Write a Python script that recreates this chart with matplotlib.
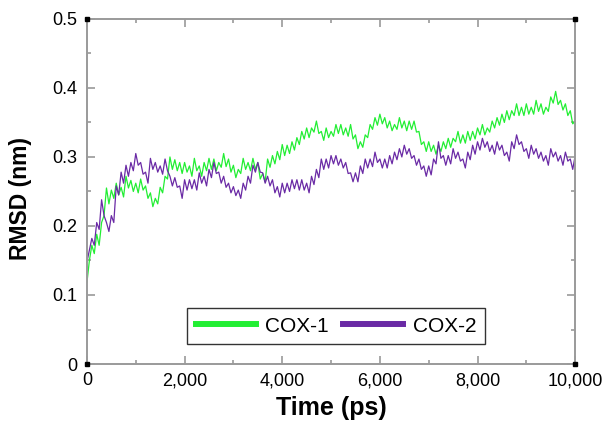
import numpy as np
import matplotlib
matplotlib.use("Agg")
import matplotlib.pyplot as plt
from matplotlib.ticker import FuncFormatter, MultipleLocator

plt.rcParams['font.family'] = ['Liberation Sans', 'DejaVu Sans']

STEP_PS = 50
cox1_rmsd = [
    0.118, 0.150, 0.172, 0.160, 0.188, 0.172, 0.205, 0.215, 0.255, 0.232,
    0.252, 0.240, 0.262, 0.245, 0.256, 0.242, 0.272, 0.255, 0.266, 0.250,
    0.262, 0.248, 0.268, 0.252, 0.258, 0.240, 0.248, 0.228, 0.240, 0.232,
    0.256, 0.248, 0.272, 0.268, 0.300, 0.282, 0.296, 0.280, 0.292, 0.276,
    0.292, 0.278, 0.287, 0.272, 0.298, 0.280, 0.287, 0.272, 0.292, 0.280,
    0.298, 0.282, 0.297, 0.280, 0.292, 0.285, 0.305, 0.286, 0.297, 0.278,
    0.288, 0.270, 0.282, 0.276, 0.298, 0.282, 0.292, 0.280, 0.298, 0.282,
    0.292, 0.268, 0.276, 0.264, 0.297, 0.285, 0.302, 0.290, 0.308, 0.296,
    0.318, 0.302, 0.317, 0.305, 0.322, 0.310, 0.328, 0.318, 0.337, 0.326,
    0.342, 0.328, 0.342, 0.336, 0.352, 0.334, 0.337, 0.324, 0.342, 0.328,
    0.337, 0.330, 0.347, 0.334, 0.347, 0.332, 0.342, 0.330, 0.347, 0.326,
    0.332, 0.312, 0.322, 0.314, 0.332, 0.328, 0.347, 0.340, 0.357, 0.346,
    0.362, 0.348, 0.357, 0.342, 0.352, 0.338, 0.347, 0.340, 0.357, 0.342,
    0.352, 0.338, 0.352, 0.340, 0.352, 0.336, 0.337, 0.318, 0.322, 0.308,
    0.322, 0.308, 0.317, 0.304, 0.317, 0.308, 0.322, 0.312, 0.327, 0.314,
    0.327, 0.322, 0.337, 0.320, 0.332, 0.320, 0.337, 0.324, 0.337, 0.326,
    0.342, 0.332, 0.347, 0.332, 0.342, 0.336, 0.352, 0.342, 0.357, 0.346,
    0.362, 0.350, 0.367, 0.354, 0.367, 0.360, 0.377, 0.360, 0.372, 0.360,
    0.377, 0.362, 0.372, 0.362, 0.382, 0.366, 0.377, 0.362, 0.372, 0.366,
    0.387, 0.378, 0.395, 0.376, 0.382, 0.368, 0.377, 0.360, 0.367, 0.348,
    0.352,
]
cox2_rmsd = [
    0.148, 0.165, 0.182, 0.172, 0.205, 0.195, 0.238, 0.215, 0.205, 0.192,
    0.215, 0.205, 0.258, 0.245, 0.278, 0.262, 0.288, 0.272, 0.292, 0.280,
    0.305, 0.288, 0.292, 0.275, 0.278, 0.262, 0.298, 0.282, 0.292, 0.278,
    0.287, 0.275, 0.297, 0.280, 0.272, 0.258, 0.270, 0.256, 0.258, 0.240,
    0.267, 0.252, 0.267, 0.254, 0.267, 0.252, 0.277, 0.262, 0.272, 0.258,
    0.282, 0.270, 0.292, 0.276, 0.278, 0.262, 0.272, 0.256, 0.262, 0.248,
    0.257, 0.244, 0.252, 0.240, 0.262, 0.252, 0.272, 0.262, 0.288, 0.278,
    0.292, 0.278, 0.277, 0.262, 0.272, 0.258, 0.267, 0.248, 0.257, 0.242,
    0.262, 0.248, 0.262, 0.250, 0.267, 0.254, 0.267, 0.252, 0.267, 0.252,
    0.262, 0.248, 0.272, 0.260, 0.282, 0.270, 0.297, 0.282, 0.297, 0.284,
    0.302, 0.290, 0.302, 0.288, 0.297, 0.284, 0.292, 0.276, 0.277, 0.264,
    0.277, 0.264, 0.287, 0.276, 0.297, 0.284, 0.297, 0.286, 0.307, 0.292,
    0.297, 0.284, 0.297, 0.284, 0.302, 0.290, 0.307, 0.296, 0.312, 0.300,
    0.317, 0.304, 0.312, 0.298, 0.302, 0.288, 0.297, 0.282, 0.287, 0.272,
    0.287, 0.274, 0.297, 0.290, 0.322, 0.298, 0.302, 0.288, 0.302, 0.290,
    0.312, 0.298, 0.307, 0.294, 0.297, 0.284, 0.307, 0.296, 0.317, 0.304,
    0.322, 0.310, 0.327, 0.314, 0.322, 0.308, 0.317, 0.304, 0.322, 0.310,
    0.317, 0.302, 0.307, 0.294, 0.322, 0.312, 0.332, 0.318, 0.322, 0.308,
    0.312, 0.298, 0.317, 0.304, 0.312, 0.298, 0.307, 0.294, 0.302, 0.288,
    0.312, 0.300, 0.307, 0.294, 0.302, 0.288, 0.307, 0.294, 0.297, 0.282,
    0.302,
]
series_names = ["COX-1", "COX-2"]
series_colors = ["#22ee33", "#6a2aa5"]

time_ps = np.arange(len(cox1_rmsd)) * STEP_PS

fig = plt.figure(figsize=(6.08, 4.25), dpi=100)
ax = fig.add_axes([0.143, 0.1435, 0.803, 0.812])

for vals, name, col in zip([cox1_rmsd, cox2_rmsd], series_names, series_colors):
    ax.plot(time_ps, vals, color=col, lw=0.9, label=name)

ax.set_xlim(0, 10000)
ax.set_ylim(0, 0.5)
ax.xaxis.set_major_locator(MultipleLocator(2000))
ax.xaxis.set_minor_locator(MultipleLocator(1000))
ax.yaxis.set_major_locator(MultipleLocator(0.1))
ax.yaxis.set_minor_locator(MultipleLocator(0.05))
ax.xaxis.set_major_formatter(FuncFormatter(lambda v, p: f"{int(round(v)):,}"))
ax.yaxis.set_major_formatter(FuncFormatter(lambda v, p: "0" if abs(v) < 1e-9 else f"{v:.1f}"))

grey = "#9a9a9a"
for s in ax.spines.values():
    s.set_color(grey)
    s.set_linewidth(1.4)
ax.tick_params(which="both", direction="in", top=True, right=True, color=grey, width=1.2)
ax.tick_params(which="major", length=6, labelsize=13)
ax.tick_params(axis="x", which="major", pad=6)
ax.tick_params(axis="y", which="major", pad=7)
ax.tick_params(which="minor", length=3)

# small black squares on the axis corners
ax.plot([0, 1, 0, 1], [0, 0, 1, 1], "s", color="black", ms=3.5,
        transform=ax.transAxes, clip_on=False, zorder=5)

ax.set_xlabel("Time (ps)", fontsize=18, fontweight="bold")
ax.set_ylabel("RMSD (nm)", fontsize=16.5, fontweight="bold")
ax.xaxis.set_label_coords(0.5, -0.093)
ax.yaxis.set_label_coords(-0.113, 0.48)

leg = ax.legend(loc="center", bbox_to_anchor=(0.51, 0.11), ncol=2, fontsize=15,
                frameon=True, fancybox=False, edgecolor="black", handlelength=2.9,
                columnspacing=0.67, handletextpad=0.45, borderpad=0.4,
                borderaxespad=0)
leg.get_frame().set_linewidth(1.0)
for ln in leg.get_lines():
    ln.set_linewidth(4.3)

fig.savefig("out.png", dpi=100)
